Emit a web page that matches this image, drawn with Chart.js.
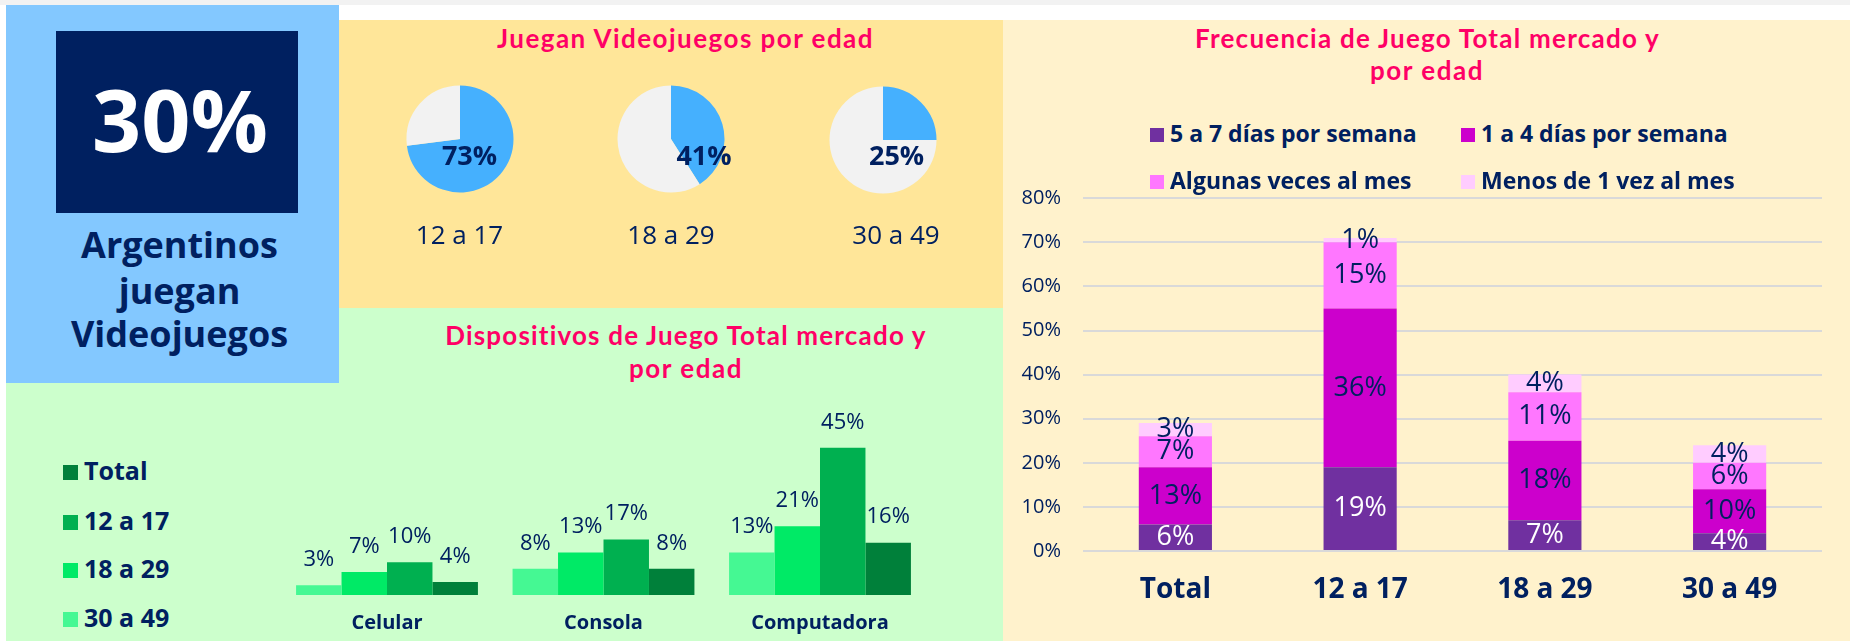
<!DOCTYPE html>
<html><head><meta charset="utf-8">
<script src="https://cdn.jsdelivr.net/npm/chart.js@4.4.0/dist/chart.umd.min.js"></script>
<style>
html,body{margin:0;padding:0;}
body{width:1850px;height:641px;position:relative;overflow:hidden;background:#fff;font-family:'Open Sans',sans-serif;color:#002060;}
.abs{position:absolute;}
.t{position:absolute;line-height:1;white-space:nowrap;}
canvas{position:absolute;}
</style></head><body>
<div class="abs" style="left:0;top:0;width:1850px;height:5px;background:#f2f2f2"></div>
<div class="abs" style="left:339px;top:20px;width:664px;height:288px;background:#FFE699"></div>
<div class="abs" style="left:6px;top:308px;width:997px;height:333px;background:#CCFFCC"></div>
<div class="abs" style="left:1003px;top:20px;width:847px;height:621px;background:#FFF2CC"></div>
<div class="abs" style="left:6px;top:5px;width:333px;height:378px;background:#83C8FF"></div>
<div class="abs" style="left:56px;top:31px;width:242px;height:182px;background:#002060"></div>
<canvas id="pie0" width="120" height="120"></canvas>
<canvas id="pie1" width="120" height="120"></canvas>
<canvas id="pie2" width="120" height="120"></canvas>
<canvas id="dev" width="760" height="251" style="left:200px;top:390px;width:760px;height:251px"></canvas>
<canvas id="freq" width="847" height="461" style="left:1003px;top:180px;width:847px;height:461px"></canvas>
<script>
// ---- data ----
const headlineValue = 30;
const headlineText = ['Argentinos', 'juegan', 'Videojuegos'];
const pieTitle = 'Juegan Videojuegos por edad';
const pieAges = ['12 a 17', '18 a 29', '30 a 49'];
const pieValues = [73, 41, 25];

const deviceTitle = ['Dispositivos de Juego Total mercado y', 'por edad'];
const deviceCategories = ['Celular', 'Consola', 'Computadora'];
const deviceSeriesNames = ['30 a 49', '18 a 29', '12 a 17', 'Total'];
const device30a49 = [3, 8, 13];
const device18a29 = [7, 13, 21];
const device12a17 = [10, 17, 45];
const deviceTotal = [4, 8, 16];

const freqTitle = ['Frecuencia de Juego Total mercado y', 'por edad'];
const freqCategories = ['Total', '12 a 17', '18 a 29', '30 a 49'];
const freqSeriesNames = ['5 a 7 días por semana', '1 a 4 días por semana', 'Algunas veces al mes', 'Menos de 1 vez al mes'];
const freq5a7 = [6, 19, 7, 4];
const freq1a4 = [13, 36, 18, 10];
const freqAlgunas = [7, 15, 11, 6];
const freqMenos = [3, 1, 4, 4];
const freqTicks = [0, 10, 20, 30, 40, 50, 60, 70, 80];

// ---- styling ----
const NAVY = '#002060';
const PINK = '#FF0066';
const pieColors = ['#45B0FE', '#F2F2F2'];
const deviceColors = ['#45F893', '#00EA66', '#00B050', '#00803A'];
const freqColors = ['#7030A0', '#CC00CC', '#FF77FF', '#FFCCFF'];

Chart.defaults.font.family = "'Open Sans', sans-serif";
Chart.defaults.color = NAVY;

function T(str, x, base, size, o) {
  o = o || {};
  const d = document.createElement('div');
  d.className = 't';
  d.textContent = str;
  d.style.fontSize = size + 'px';
  d.style.fontWeight = o.bold ? '700' : '400';
  d.style.color = o.color || NAVY;
  d.style.fontFamily = o.fam || "'Open Sans', sans-serif";
  d.style.top = (base - 0.888 * size) + 'px';
  d.style.left = x + 'px';
  document.body.appendChild(d);
  if (o.w) {
    const w0 = d.getBoundingClientRect().width;
    d.style.letterSpacing = ((o.w - w0) / str.length) + 'px';
  }
  if (o.align !== 'left') d.style.transform = 'translateX(-50%)';
  return d;
}
function box(x, y, w, h, c) {
  const d = document.createElement('div');
  d.className = 'abs';
  Object.assign(d.style, {left: x + 'px', top: y + 'px', width: w + 'px', height: h + 'px', background: c});
  document.body.appendChild(d);
}
function noPad(s) { s.paddingTop = 0; s.paddingBottom = 0; s.paddingLeft = 0; s.paddingRight = 0; }

// ---- left KPI ----
T(headlineValue + '%', 180, 152, 86, {bold: true, color: '#fff'});
[259, 305, 348].forEach((b, i) => T(headlineText[i], 179.5, b, 36, {bold: true}));

// ---- titles ----
const TF = "Lato, sans-serif";
T(pieTitle, 685.5, 48, 26, {bold: true, color: PINK, fam: TF, w: 377});
T(freqTitle[0], 1427.5, 48, 26, {bold: true, color: PINK, fam: TF, w: 465});
T(freqTitle[1], 1427, 80, 26, {bold: true, color: PINK, fam: TF, w: 114});
T(deviceTitle[0], 686, 345, 26, {bold: true, color: PINK, fam: TF, w: 482});
T(deviceTitle[1], 686, 378, 26, {bold: true, color: PINK, fam: TF, w: 114});

// ---- pies ----
const pieCenters = [[459.5, 139], [671, 139], [882.5, 140.3]];
const pieLabelX = [469.5, 704, 896.6];
const pieAgeX = [459.5, 671, 896];
pieValues.forEach((v, i) => {
  const c = document.getElementById('pie' + i);
  c.style.left = (pieCenters[i][0] - 60) + 'px';
  c.style.top = (pieCenters[i][1] - 60) + 'px';
  c.style.width = '120px'; c.style.height = '120px';
  new Chart(c, {
    type: 'pie',
    data: {labels: ['Juegan', 'No juegan'], datasets: [{data: [v, 100 - v], backgroundColor: pieColors, borderWidth: 0}]},
    options: {responsive: false, animation: false, layout: {padding: 6.5},
      plugins: {legend: {display: false}, tooltip: {enabled: false}}}
  });
  T(v + '%', pieLabelX[i], 165, 27, {bold: true});
  T(pieAges[i], pieAgeX[i], 244, 26);
});

// ---- device chart ----
const deviceData = [device30a49, device18a29, device12a17, deviceTotal];
const aboveLabels = {
  id: 'aboveLabels',
  afterDatasetsDraw(chart) {
    const ctx = chart.ctx;
    ctx.save();
    ctx.font = "22px 'Open Sans'";
    ctx.fillStyle = NAVY;
    ctx.textAlign = 'center';
    ctx.textBaseline = 'middle';
    chart.data.datasets.forEach((ds, di) => {
      chart.getDatasetMeta(di).data.forEach((el, i) => {
        ctx.fillText(ds.data[i] + '%', el.x, el.y - 25.6);
      });
    });
    ctx.restore();
  }
};
new Chart(document.getElementById('dev'), {
  type: 'bar',
  data: {labels: deviceCategories, datasets: deviceSeriesNames.map((n, i) => ({
    label: n, data: deviceData[i], backgroundColor: deviceColors[i], borderWidth: 0,
    categoryPercentage: 0.84, barPercentage: 1}))},
  options: {
    responsive: false, animation: false,
    layout: {padding: {left: 78.75, right: 31.75, top: 41.5, bottom: 0}},
    scales: {
      x: {grid: {display: false, drawTicks: false}, border: {display: false},
          ticks: {padding: 16, color: NAVY, font: {size: 20, weight: 'bold'}},
          afterFit: s => { s.height = 46; noPad(s); }},
      y: {display: false, min: 0, max: 50}
    },
    plugins: {legend: {display: false}, tooltip: {enabled: false}}
  },
  plugins: [aboveLabels]
});
// device legend (reversed order)
const devLegendBase = [480, 530, 578.3, 626.7];
deviceSeriesNames.slice().reverse().forEach((n, i) => {
  const ci = deviceSeriesNames.length - 1 - i;
  box(62.5, devLegendBase[i] - 15, 15, 15, deviceColors[ci]);
  T(n, 84, devLegendBase[i], 25, {bold: true, align: 'left'});
});

// ---- frequency chart ----
const freqData = [freq5a7, freq1a4, freqAlgunas, freqMenos];
const centerLabels = {
  id: 'centerLabels',
  afterDatasetsDraw(chart) {
    const ctx = chart.ctx;
    ctx.save();
    ctx.font = "27px 'Open Sans'";
    ctx.textAlign = 'center';
    ctx.textBaseline = 'middle';
    chart.data.datasets.forEach((ds, di) => {
      ctx.fillStyle = di === 0 ? '#FFFFFF' : NAVY;
      chart.getDatasetMeta(di).data.forEach((el, i) => {
        ctx.fillText(ds.data[i] + '%', el.x, (el.y + el.base) / 2);
      });
    });
    ctx.restore();
  }
};
new Chart(document.getElementById('freq'), {
  type: 'bar',
  data: {labels: freqCategories, datasets: freqSeriesNames.map((n, i) => ({
    label: n, data: freqData[i], backgroundColor: freqColors[i], borderWidth: 0,
    categoryPercentage: 1, barPercentage: 0.396}))},
  options: {
    responsive: false, animation: false,
    layout: {padding: {left: 2, right: 28, top: 18.2, bottom: 0}},
    scales: {
      x: {stacked: true, grid: {display: false, drawTicks: false}, border: {display: false},
          ticks: {padding: 22, color: NAVY, font: {size: 28, weight: 'bold'}},
          afterFit: s => { s.height = 90; noPad(s); }},
      y: {stacked: true, min: freqTicks[0], max: freqTicks[freqTicks.length - 1],
          afterBuildTicks: s => { s.ticks = freqTicks.map(v => ({value: v})); },
          grid: {color: '#D9D9D9', lineWidth: 2, drawTicks: false}, border: {display: false},
          ticks: {padding: 22, color: NAVY, font: {size: 20}, callback: v => v + '%'},
          afterFit: s => { s.width = 78; noPad(s); }}
    },
    plugins: {legend: {display: false}, tooltip: {enabled: false}}
  },
  plugins: [centerLabels]
});
// frequency legend (2x2)
const freqLegPos = [[1150, 142], [1461, 142], [1150, 189], [1461, 189]];
freqSeriesNames.forEach((n, i) => {
  const [x, b] = freqLegPos[i];
  box(x, b - 14, 14, 14, freqColors[i]);
  T(n, x + 20, b, 23, {bold: true, align: 'left'});
});
</script>
</body></html>
